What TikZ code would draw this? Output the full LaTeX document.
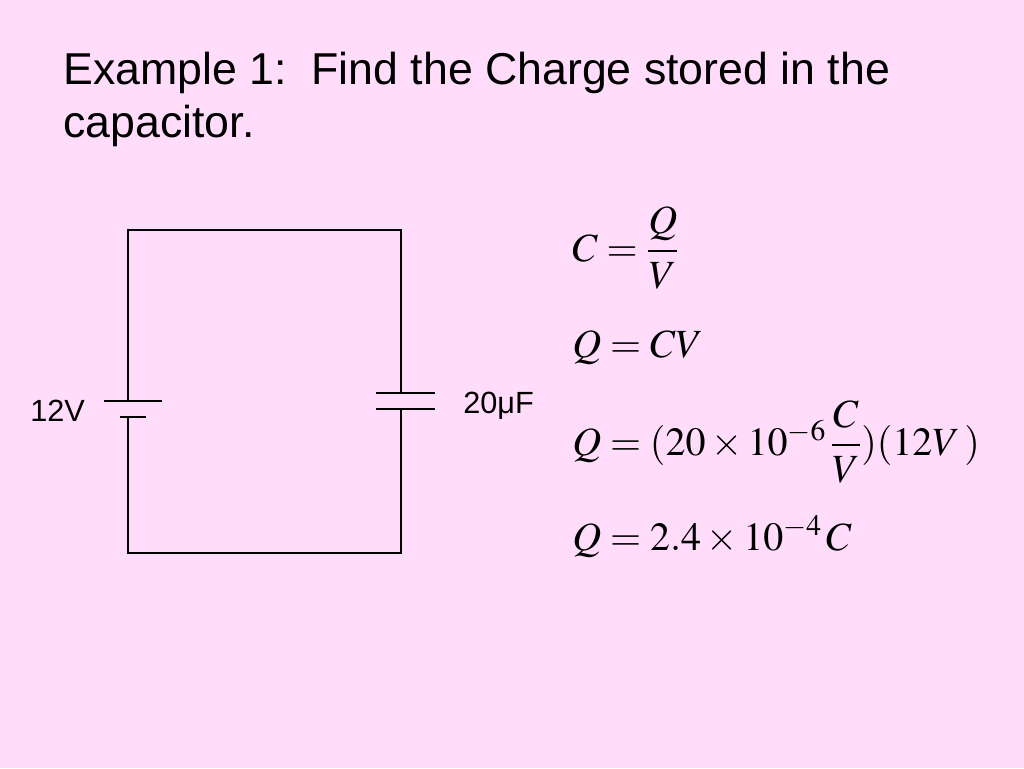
\documentclass[tikz,border=0pt]{standalone}
\usepackage{amsmath}
\usepackage{mathptmx}
\usepackage{fontspec}
\setmainfont{Liberation Sans}
\definecolor{bg}{RGB}{255,221,250}
\tikzset{wire/.style={line width=0.8pt,black},
txt/.style={inner sep=0,anchor=base west},
eq/.style={inner sep=0,anchor=base west,font=\fontsize{30}{34}\selectfont}}
\begin{document}
\begin{tikzpicture}[x=0.75pt,y=-0.75pt]
\fill[bg] (0,0) rectangle (1024,768);
\useasboundingbox (0,0) rectangle (1024,768);
\node[txt,font=\fontsize{33.5}{38}\selectfont] (t1) at (63,84) {Example 1:\ \ Find the Charge stored in the};
\node[txt,font=\fontsize{33.5}{38}\selectfont] (t2) at (63,137) {capacitor.};
% circuit
\coordinate (tl) at (128,230); \coordinate (tr) at (401,230);
\coordinate (bl) at (128,553); \coordinate (br) at (401,553);
\coordinate (b1) at (128,401); \coordinate (b2) at (128,417);
\coordinate (c1) at (401,393); \coordinate (c2) at (401,409);
\draw[wire] (b1) -- (tl) -- (tr) -- (c1);
\draw[wire] (c2) -- (br) -- (bl) -- (b2);
\draw[wire] (104,401) -- (162,401);
\draw[wire] (120,417) -- (146,417);
\draw[wire] (376,393) -- (435,393);
\draw[wire] (376,409) -- (435,409);
\node[txt,font=\fontsize{23}{27}\selectfont] (v) at (30,421) {12V};
\node[txt,font=\fontsize{23}{27}\selectfont] (cap) at (463,413) {20μF};
% equations
\node[eq] (e1) at (572,261) {$C=\dfrac{Q}{V}$};
\node[eq] (e2) at (572,357) {$Q=CV$};
\node[eq] (e3) at (572,455) {$Q=(20\times10^{-6}\,\dfrac{C}{V})(12V\,)$};
\node[eq] (e4) at (572,550) {$Q=2.4\times10^{-4}\,C$};
\end{tikzpicture}
\end{document}
